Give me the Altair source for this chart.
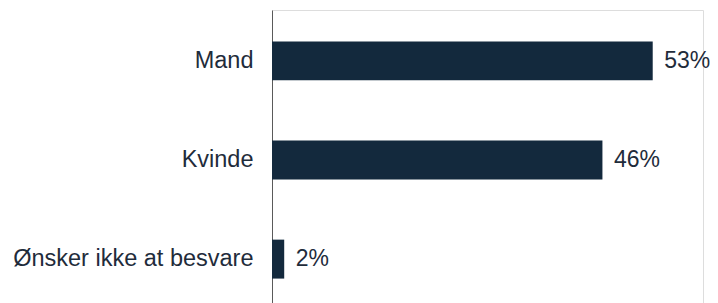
import altair as alt
import pandas as pd

categories = ["Mand", "Kvinde", "Ønsker ikke at besvare"]
values = [53.0, 46.0, 1.7]

df = pd.DataFrame({"cat": categories, "val": values})
df["label"] = [f"{round(v):.0f}%" for v in values]

FONT = "Liberation Sans"
TEXT_COLOR = "#1f2c3b"
BAR_COLOR = "#13293d"

y = alt.Y(
    "cat:N",
    sort=categories,
    title=None,
    scale=alt.Scale(paddingInner=0.607, paddingOuter=0.317),
    axis=alt.Axis(
        ticks=False,
        domain=True,
        domainColor="#5a5a5a",
        domainWidth=1,
        labelFont=FONT,
        labelFontSize=23.5,
        labelColor=TEXT_COLOR,
        labelPadding=19,
        labelLimit=400,
    ),
)
x = alt.X("val:Q", title=None, scale=alt.Scale(domain=[0, 60], nice=False), axis=None)

bars = alt.Chart(df).mark_bar(color=BAR_COLOR).encode(x=x, y=y)
text = alt.Chart(df).mark_text(
    align="left", baseline="middle", dx=11.5, font=FONT, fontSize=23, color=TEXT_COLOR
).encode(x=x, y=y, text="label:N")

chart = (
    alt.layer(bars, text)
    .properties(
        width=431,
        height=300,
        autosize=alt.AutoSizeParams(type="none"),
        padding={"left": 264, "top": 2, "right": 7, "bottom": 0},
    )
    .configure_view(stroke=None)
    .configure(background="white")
)

chart.save("out.html", embed_options={"renderer": "svg", "actions": False})
